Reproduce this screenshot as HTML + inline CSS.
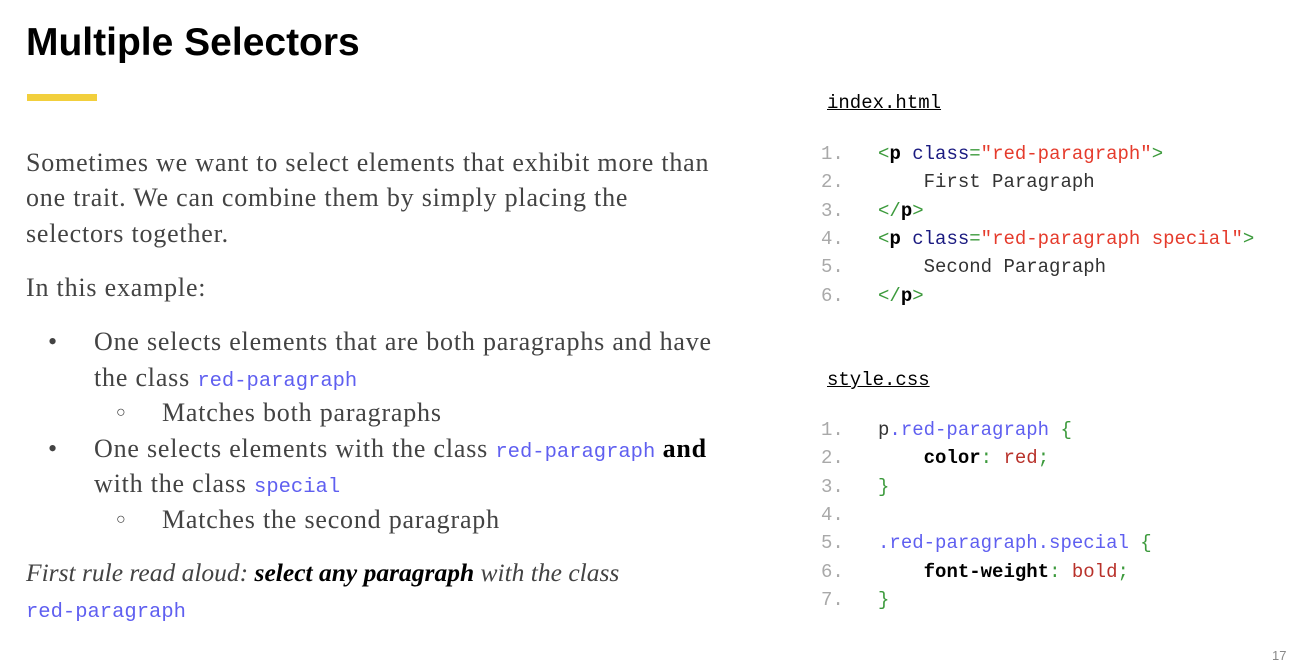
<!DOCTYPE html>
<html><head><meta charset="utf-8"><style>
body{margin:0;width:1290px;height:658px;background:#fff;position:relative;overflow:hidden}
.a{position:absolute;white-space:pre}
.s{font-family:"Liberation Serif",serif;font-size:26px;color:#434343;line-height:30px;letter-spacing:0.8px}
.c{font-family:"Liberation Mono",monospace;color:#5f5ff0;font-size:20.5px;letter-spacing:0}
.m{font-family:"Liberation Mono",monospace;font-size:19px;line-height:24px;color:#333}
.n{color:#a9a9a9}
.g{color:#3c9a3c}.k{color:#000;font-weight:bold}.nv{color:#1a1a80}.r{color:#e53b2c}
.b{color:#5f5ff0}.v{color:#b8312a}
</style></head><body>
<div class="a" style="left:26px;top:21px;font-family:'Liberation Sans',sans-serif;font-weight:bold;font-size:39px;color:#000">Multiple Selectors</div>
<div class="a" style="left:27px;top:94px;width:70px;height:7px;background:#f2cf3c"></div>

<div class="a s" style="left:26px;top:148px">Sometimes we want to select elements that exhibit more than</div>
<div class="a s" style="left:26px;top:183px">one trait. We can combine them by simply placing the</div>
<div class="a s" style="left:26px;top:219px">selectors together.</div>
<div class="a s" style="left:26px;top:273px">In this example:</div>
<div class="a s" style="left:48px;top:327px">•</div>
<div class="a s" style="left:94px;top:327px">One selects elements that are both paragraphs and have</div>
<div class="a s" style="left:94px;top:363px">the class <span class="c">red-paragraph</span></div>
<div class="a s" style="left:116px;top:398px;font-size:16px">○</div>
<div class="a s" style="left:162px;top:398px">Matches both paragraphs</div>
<div class="a s" style="left:48px;top:434px">•</div>
<div class="a s" style="left:94px;top:434px">One selects elements with the class <span class="c">red-paragraph</span> <b style="color:#000">and</b></div>
<div class="a s" style="left:94px;top:469px">with the class <span class="c">special</span></div>
<div class="a s" style="left:116px;top:505px;font-size:16px">○</div>
<div class="a s" style="left:162px;top:505px">Matches the second paragraph</div>
<div class="a s" style="left:26px;top:558px;font-style:italic;letter-spacing:0;font-size:25.5px">First rule read aloud: <b style="color:#000">select any paragraph</b> with the class</div>
<div class="a s" style="left:26px;top:594px"><span class="c">red-paragraph</span></div>

<div class="a m" style="left:827px;top:91px;color:#000;text-decoration:underline">index.html</div>
<div class="a m" style="left:821px;top:142px"><span class="n">1.</span>   <span class="g">&lt;</span><span class="k">p</span> <span class="nv">class</span><span class="g">=</span><span class="r">"red-paragraph"</span><span class="g">&gt;</span></div>
<div class="a m" style="left:821px;top:170px"><span class="n">2.</span>       First Paragraph</div>
<div class="a m" style="left:821px;top:199px"><span class="n">3.</span>   <span class="g">&lt;/</span><span class="k">p</span><span class="g">&gt;</span></div>
<div class="a m" style="left:821px;top:227px"><span class="n">4.</span>   <span class="g">&lt;</span><span class="k">p</span> <span class="nv">class</span><span class="g">=</span><span class="r">"red-paragraph special"</span><span class="g">&gt;</span></div>
<div class="a m" style="left:821px;top:255px"><span class="n">5.</span>       Second Paragraph</div>
<div class="a m" style="left:821px;top:284px"><span class="n">6.</span>   <span class="g">&lt;/</span><span class="k">p</span><span class="g">&gt;</span></div>

<div class="a m" style="left:827px;top:368px;color:#000;text-decoration:underline">style.css</div>
<div class="a m" style="left:821px;top:418px"><span class="n">1.</span>   p<span class="b">.red-paragraph</span> <span class="g">{</span></div>
<div class="a m" style="left:821px;top:446px"><span class="n">2.</span>       <span class="k">color</span><span class="g">:</span> <span class="v">red</span><span class="g">;</span></div>
<div class="a m" style="left:821px;top:475px"><span class="n">3.</span>   <span class="g">}</span></div>
<div class="a m" style="left:821px;top:503px"><span class="n">4.</span></div>
<div class="a m" style="left:821px;top:531px"><span class="n">5.</span>   <span class="b">.red-paragraph.special</span> <span class="g">{</span></div>
<div class="a m" style="left:821px;top:560px"><span class="n">6.</span>       <span class="k">font-weight</span><span class="g">:</span> <span class="v">bold</span><span class="g">;</span></div>
<div class="a m" style="left:821px;top:588px"><span class="n">7.</span>   <span class="g">}</span></div>
<div class="a" style="left:1272px;top:648px;font-family:'Liberation Sans',sans-serif;font-size:13px;color:#888">17</div>
</body></html>
